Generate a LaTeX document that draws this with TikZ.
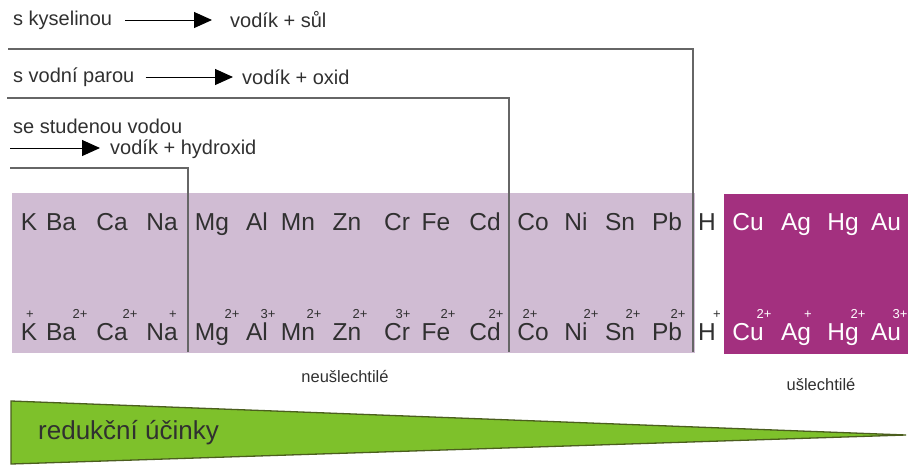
\documentclass[tikz,border=0pt]{standalone}
\usepackage{fontspec}
\setmainfont{Liberation Sans}
\usetikzlibrary{arrows.meta}
\definecolor{lilac}{HTML}{D0BCD3}
\definecolor{magen}{HTML}{A3307F}
\definecolor{grn}{HTML}{7EC12B}
\definecolor{grnedge}{HTML}{4B5E1E}
\definecolor{txt}{HTML}{303030}
\definecolor{linec}{HTML}{666666}
\tikzset{
  lbl/.style={inner sep=0pt, text=txt, font=\fontsize{20}{22}\selectfont, anchor=west},
  elem/.style={inner sep=0pt, text=txt, font=\fontsize{24.5}{26}\selectfont, anchor=base},
  chg/.style={inner sep=0pt, text=txt, font=\fontsize{13}{14}\selectfont, anchor=base},
  bracket/.style={draw=linec, line width=1.6pt},
  rarrow/.style={draw=black, line width=1pt, -{Triangle[length=18pt,width=16pt]}},
  small/.style={inner sep=0pt, text=txt, font=\fontsize{16.5}{18}\selectfont}
}
\begin{document}
\begin{tikzpicture}[x=1pt,y=-1pt]
\useasboundingbox (0,0) rectangle (908,464);
% boxes
\fill[lilac] (12,193) rectangle (695,353);
\fill[magen] (724,194) rectangle (908,354);
% bracket lines
\draw[bracket] (8,49) -- (693,49) -- (693,352);
\draw[bracket] (7,98) -- (509,98) -- (509,352);
\draw[bracket] (10,168) -- (188,168) -- (188,352);
% reaction labels
\node[lbl] (acid) at (13,20) {s kyselinou};
\node[lbl] (acidp) at (230,20) {vodík + sůl};
\draw[rarrow] ([xshift=13pt]acid.east) -- ([xshift=-18pt]acidp.west);
\node[lbl] (steam) at (13,77) {s vodní parou};
\node[lbl] (steamp) at (242,77) {vodík + oxid};
\draw[rarrow] ([xshift=11pt]steam.east) -- ([xshift=-9pt]steamp.west);
\node[lbl] (cold) at (13,126) {se studenou vodou};
\node[lbl] (coldp) at (110,149) {vodík + hydroxid};
\coordinate (coldstart) at (10,148);
\draw[rarrow] (coldstart) -- ([xshift=-10pt]coldp.west |- coldstart);
% elements
\foreach \n/\x/\c/\cx [count=\i] in {K/29/+/30, Ba/61/2+/80, Ca/112/2+/130, Na/162/+/173, Mg/212/2+/232, Al/257/3+/268, Mn/298/2+/314, Zn/347/2+/360, Cr/397/3+/403, Fe/436/2+/448, Cd/485/2+/496, Co/533/2+/530, Ni/576/2+/591, Sn/620/2+/633, Pb/667/2+/678, H/707/+/717}{
  \node[elem] (a\i) at (\x,230) {\n};
  \node[elem] (b\i) at (\x,340) {\n};
  \node[chg] (c\i) at (\cx,318) {\c};
}
\foreach \n/\x/\c/\cx [count=\i] in {Cu/748/2+/764, Ag/796/+/808, Hg/843/2+/858, Au/886/3+/900}{
  \node[elem,text=white] (na\i) at (\x,230) {\n};
  \node[elem,text=white] (nb\i) at (\x,340) {\n};
  \node[chg,text=white] (nc\i) at (\cx,318) {\c};
}
% group labels
\node[small] (neu) at (345,376) {neušlechtilé};
\node[small] (usl) at (821,384) {ušlechtilé};
% reduction wedge
\draw[fill=grn, draw=grnedge, line width=1.3pt, line join=miter] (11,401) -- (906,435) -- (11,464) -- cycle;
\node[inner sep=0pt, text=txt, font=\fontsize{26}{28}\selectfont, anchor=west] (red) at (38,433) {redukční účinky};
\end{tikzpicture}
\end{document}
